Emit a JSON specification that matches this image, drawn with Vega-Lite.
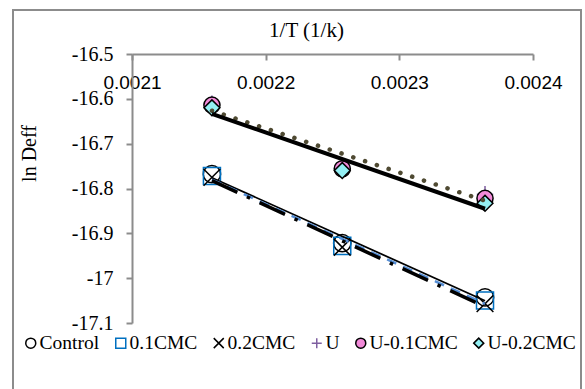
{
  "$schema": "https://vega.github.io/schema/vega-lite/v6.json",
  "width": 401,
  "height": 269,
  "autosize": "none",
  "padding": {"left": 132, "top": 54, "right": 52, "bottom": 66},
  "background": "white",
  "title": {"text": "1/T (1/k)", "font": "Liberation Serif", "fontSize": 21, "fontWeight": "normal", "color": "black", "anchor": "middle", "dx": -26, "dy": 34, "offset": 2},
  "data": {"values": [
    {"series": "Control", "x": 0.0021598, "y": -16.768},
    {"series": "Control", "x": 0.0022573, "y": -16.922},
    {"series": "Control", "x": 0.0023641, "y": -17.043},
    {"series": "0.1CMC", "x": 0.0021598, "y": -16.772},
    {"series": "0.1CMC", "x": 0.0022573, "y": -16.928},
    {"series": "0.1CMC", "x": 0.0023641, "y": -17.050},
    {"series": "0.2CMC", "x": 0.0021598, "y": -16.775},
    {"series": "0.2CMC", "x": 0.0022573, "y": -16.931},
    {"series": "0.2CMC", "x": 0.0023641, "y": -17.057},
    {"series": "U", "x": 0.0021598, "y": -16.611},
    {"series": "U", "x": 0.0022573, "y": -16.752},
    {"series": "U", "x": 0.0023641, "y": -16.813},
    {"series": "U-0.1CMC", "x": 0.0021598, "y": -16.614},
    {"series": "U-0.1CMC", "x": 0.0022573, "y": -16.756},
    {"series": "U-0.1CMC", "x": 0.0023641, "y": -16.822},
    {"series": "U-0.2CMC", "x": 0.0021598, "y": -16.620},
    {"series": "U-0.2CMC", "x": 0.0022573, "y": -16.760},
    {"series": "U-0.2CMC", "x": 0.0023641, "y": -16.833}
  ]},
  "layer": [
    {
      "data": {"values": [{"frame": "outer"}]},
      "mark": {"type": "rect", "fill": "transparent", "stroke": "#8C8C8C", "strokeWidth": 2},
      "encoding": {
        "x": {"datum": 0.00201097, "type": "quantitative"},
        "x2": {"datum": 0.00243591},
        "y": {"datum": -16.40186, "type": "quantitative"},
        "y2": {"datum": -17.28}
      }
    },
    {
      "mark": {"type": "point", "strokeWidth": 1.5, "opacity": 1},
      "encoding": {
        "x": {"field": "x", "type": "quantitative",
          "scale": {"domain": [0.0021, 0.0024], "nice": false, "zero": false},
          "axis": {"orient": "bottom", "offset": -269, "values": [0.0021, 0.0022, 0.0023, 0.0024], "format": ".4f",
            "labelFont": "Liberation Sans", "labelFontSize": 19, "labelColor": "black", "labelPadding": 13,
            "domainColor": "#8C8C8C", "domainWidth": 2, "tickColor": "#8C8C8C", "tickWidth": 2, "tickSize": 6,
            "grid": false, "title": null, "labelFlush": false, "labelOverlap": false}},
        "y": {"field": "y", "type": "quantitative",
          "scale": {"domain": [-17.1, -16.5], "nice": false, "zero": false},
          "axis": {"orient": "left", "values": [-16.5, -16.6, -16.7, -16.8, -16.9, -17, -17.1], "format": "~g",
            "labelExpr": "replace(datum.label, '\u2212', '-')",
            "labelFont": "Liberation Serif", "labelFontSize": 20, "labelColor": "black", "labelPadding": 13,
            "domainColor": "#8C8C8C", "domainWidth": 2, "tickColor": "#8C8C8C", "tickWidth": 2, "tickSize": 6,
            "grid": false, "title": "ln Deff", "titleFont": "Liberation Serif", "titleFontSize": 20, "titleFontWeight": "normal",
            "titleColor": "black", "titleAngle": 270, "titleX": -103, "titleY": 99, "titleAlign": "center", "titleBaseline": "middle"}},
        "shape": {"field": "series", "type": "nominal",
          "scale": {"domain": ["Control", "0.1CMC", "0.2CMC", "U", "U-0.1CMC", "U-0.2CMC"],
            "range": ["circle", "square", "M-1,-1L1,1M-1,1L1,-1", "M-1,0L1,0M0,-1L0,1", "circle", "diamond"]},
          "legend": {"title": null, "orient": "none", "legendX": -111, "legendY": 279, "direction": "horizontal"}},
        "stroke": {"field": "series", "type": "nominal",
          "scale": {"domain": ["Control", "0.1CMC", "0.2CMC", "U", "U-0.1CMC", "U-0.2CMC"],
            "range": ["black", "#0070C0", "black", "#7E5FA0", "black", "black"]},
          "legend": {"title": null, "orient": "none", "legendX": -111, "legendY": 279, "direction": "horizontal"}},
        "fill": {"field": "series", "type": "nominal",
          "scale": {"domain": ["Control", "0.1CMC", "0.2CMC", "U", "U-0.1CMC", "U-0.2CMC"],
            "range": ["transparent", "transparent", "transparent", "transparent", "#F28AD9", "#93F0F4"]},
          "legend": {"title": null, "orient": "none", "legendX": -111, "legendY": 279, "direction": "horizontal"}},
        "size": {"field": "series", "type": "nominal",
          "scale": {"domain": ["U-0.2CMC", "U-0.1CMC", "U", "0.2CMC", "0.1CMC", "Control"],
            "range": [250, 300, 460, 256, 300, 300]},
          "legend": null}
      }
    },
    {
      "transform": [{"filter": "datum.series === 'Control'"}, {"regression": "y", "on": "x"}],
      "mark": {"type": "line", "color": "black", "strokeWidth": 1.75},
      "encoding": {"x": {"field": "x", "type": "quantitative"}, "y": {"field": "y", "type": "quantitative"}}
    },
    {
      "transform": [{"filter": "datum.series === '0.1CMC'"}, {"regression": "y", "on": "x"}],
      "mark": {"type": "line", "color": "#558ED5", "strokeWidth": 2.5, "strokeDash": [10, 7.5]},
      "encoding": {"x": {"field": "x", "type": "quantitative"}, "y": {"field": "y", "type": "quantitative"}}
    },
    {
      "transform": [{"filter": "datum.series === '0.2CMC'"}, {"regression": "y", "on": "x"}],
      "mark": {"type": "line", "color": "black", "strokeWidth": 3.5, "strokeDash": [28, 10.5, 3.5, 10.5]},
      "encoding": {"x": {"field": "x", "type": "quantitative"}, "y": {"field": "y", "type": "quantitative"}}
    },
    {
      "transform": [{"filter": "datum.series === 'U'"}, {"regression": "y", "on": "x"}],
      "mark": {"type": "line", "color": "#4F4A32", "strokeWidth": 4.5, "strokeDash": [0.1, 12.3], "strokeCap": "round"},
      "encoding": {"x": {"field": "x", "type": "quantitative"}, "y": {"field": "y", "type": "quantitative"}}
    },
    {
      "transform": [{"filter": "datum.series === 'U-0.2CMC'"}, {"regression": "y", "on": "x"}],
      "mark": {"type": "line", "color": "black", "strokeWidth": 4},
      "encoding": {"x": {"field": "x", "type": "quantitative"}, "y": {"field": "y", "type": "quantitative"}}
    }
  ],
  "config": {
    "view": {"stroke": null},
    "legend": {"labelFont": "Liberation Serif", "labelFontSize": 19.5, "labelColor": "black", "labelOffset": -1, "columnPadding": 11,
      "symbolSize": 100, "symbolStrokeWidth": 1.5, "labelLimit": 200}
  }
}
